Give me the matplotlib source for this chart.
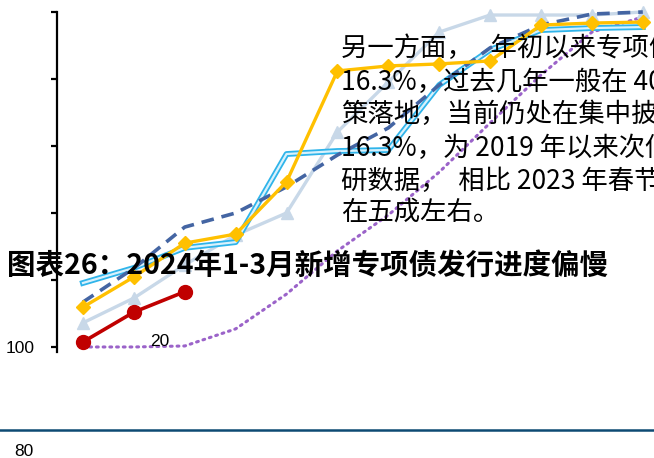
import matplotlib
matplotlib.use("Agg")
import matplotlib.pyplot as plt
from matplotlib.lines import Line2D

W, H = 654, 458

months = list(range(1, 13))
# cumulative issuance progress, % of annual quota
s_2024 = [1.5, 10.4, 16.5]
s_yellow = [11.9, 20.9, 31.0, 33.7, 49.3, 82.4, 83.9, 84.5, 85.4, 96.1, 96.7, 97.0]
s_gray = [7.2, 14.6, 24.5, 33.4, 40.0, 64.2, 79.1, 94.0, 99.1, 99.1, 99.1, 100.0]
s_cyan = [19.1, 23.6, 29.6, 31.3, 57.6, 58.5, 58.8, 78.2, 88.7, 94.6, 95.2, 95.5]
s_dash = [13.4, 23.5, 35.8, 40.0, 47.8, 57.3, 65.4, 78.2, 89.3, 96.1, 99.4, 100.0]
s_purple = [0.0, 0.0, 0.3, 5.4, 15.8, 28.7, 39.4, 52.2, 66.9, 81.2, 94.0, 98.5]

yticks = [0, 20, 40, 60, 80, 100]
ytick_labels = ["100", "", "", "", "", ""]

title = "图表26：2024年1-3月新增专项债发行进度偏慢"
para = [
    "另一方面，   年初以来专项债",
    "16.3%，过去几年一般在 40",
    "策落地，当前仍处在集中披",
    "16.3%，为 2019 年以来次低",
    "研数据，  相比 2023 年春节",
    "在五成左右。",
]
para_y = [48, 82, 114, 148, 181, 212]

CJK = ["Noto Sans CJK SC", "DejaVu Sans"]


def px(x, y):
    return x / W, 1 - y / H


fig = plt.figure(figsize=(W / 100, H / 100), dpi=100)
ax = fig.add_axes([57 / W, (H - 352) / H, (W - 57) / W, (352 - 12) / H])
ax.set_xlim(0.49, 12.22)
ax.set_ylim(-1.5, 100)

ax.plot(months, s_purple, color="#9b63c9", lw=2.2, ls=(0, (0.6, 1.6)),
        dash_capstyle="round", clip_on=False, zorder=2)
ax.plot(months, s_gray, color="#c8d8e8", lw=2.4, marker="^", ms=9,
        clip_on=False, zorder=3)
ax.plot(months, s_cyan, color="#2fb4ea", lw=4.2, clip_on=False, zorder=4)
ax.plot(months, s_cyan, color="#d8f1fc", lw=1.6, clip_on=False, zorder=4)
ax.plot(months, s_dash, color="#4465a3", lw=2.6, ls=(0, (3.5, 2.2)),
        clip_on=False, zorder=5)
ax.plot(months, s_yellow, color="#ffc000", lw=2.4, marker="D", ms=7,
        clip_on=False, zorder=6)
ax.plot(months[:3], s_2024, color="#c00000", lw=2.6, marker="o", ms=10,
        clip_on=False, zorder=7)

for side in ["top", "right", "bottom"]:
    ax.spines[side].set_visible(False)
ax.spines["left"].set_linewidth(1.6)
ax.set_xticks([])
ax.set_yticks(yticks)
ax.set_yticklabels(ytick_labels, fontsize=12.5, family="Liberation Sans")
ax.tick_params(axis="y", length=4, width=1.6, pad=12)
ax.patch.set_alpha(0)

# overlapping text from the page
for line, y in zip(para, para_y):
    fig.text(*px(341, y), line, fontsize=19, family=CJK, va="center",
             ha="left", zorder=10)
fig.text(*px(7, 266), title, fontsize=20.5, family=CJK, weight="bold",
         va="center", ha="left", zorder=10)
fig.text(*px(160, 341), "20", fontsize=12.5, family="Liberation Sans",
         va="center", ha="center", zorder=10)
fig.text(*px(24, 451), "80", fontsize=12.5, family="Liberation Sans",
         va="center", ha="center")

y_rule = 1 - 430 / H
fig.add_artist(Line2D([0, 1], [y_rule, y_rule], color="#0d4a73", lw=1.8))

fig.savefig("out.png", dpi=100)
